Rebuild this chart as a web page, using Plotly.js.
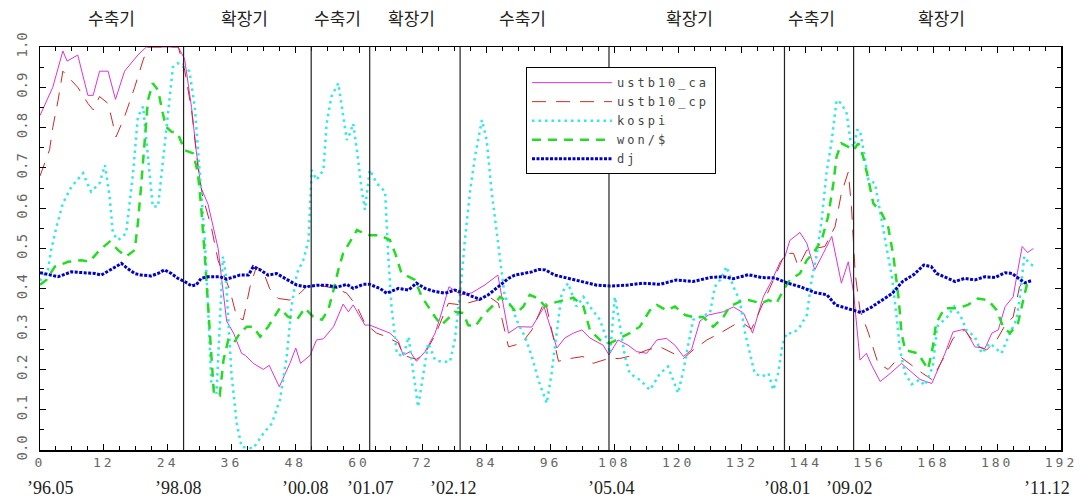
<!DOCTYPE html>
<html>
<head>
<meta charset="utf-8">
<script src="https://cdn.plot.ly/plotly-3.0.1.min.js"></script>
<style>
  html, body { margin: 0; padding: 0; background: #fff; }
  #chart { width: 1089px; height: 503px; }
  .legendtext { letter-spacing: 3px; }
  .xtick text { letter-spacing: 3px; }
</style>
</head>
<body>
<div id="chart"></div>
<script>
// ---- data (x = months since '96.05) ----
const caMonths = [0,2.4,4.3,5.1,7.1,9,10,11.2,12.8,14.2,15.9,18.4,20,26,27.2,28.5,29.4,30.3,31.6,32.5,33.5,34.2,35.1,36.4,37.9,38.6,40.1,42,43.1,45,47,48.1,49,50.8,52,53.3,55.2,57,58,58.9,61.1,62,63.9,65.8,67.4,68.3,69.6,70.8,72.4,74.3,75.5,76.9,79.2,81.2,83.7,86.1,88.1,89.9,92.5,94.8,97.2,98.7,100.3,101.9,103.4,105.9,107,108.7,110.6,112.2,114.1,116,117.8,119.4,121,122.5,124.1,125.7,128.5,130.4,132.3,134,136,137.6,139.2,140.1,141,142.9,144.2,145.7,147.3,148.9,150.7,152,153,154.2,155.4,156.4,158,159.9,162,164.5,165.5,167.7,170.2,171.7,173.9,175.8,177.7,179,180.2,181.5,183,183.8,184.7,185.7,186.8];
const caValues = [0.83,0.90,0.99,0.965,0.98,0.88,0.88,0.94,0.94,0.87,0.94,0.98,1.0,1.0,0.97,0.85,0.74,0.65,0.61,0.56,0.50,0.42,0.32,0.29,0.24,0.235,0.215,0.20,0.21,0.157,0.215,0.253,0.215,0.235,0.273,0.276,0.306,0.362,0.343,0.36,0.31,0.31,0.30,0.29,0.27,0.235,0.244,0.22,0.244,0.29,0.34,0.405,0.385,0.39,0.41,0.434,0.29,0.306,0.305,0.355,0.253,0.278,0.29,0.298,0.278,0.26,0.236,0.273,0.26,0.244,0.24,0.273,0.277,0.26,0.232,0.248,0.32,0.335,0.343,0.355,0.34,0.29,0.38,0.42,0.467,0.48,0.52,0.54,0.513,0.447,0.488,0.53,0.414,0.467,0.39,0.223,0.24,0.21,0.17,0.19,0.215,0.185,0.175,0.165,0.24,0.293,0.30,0.256,0.252,0.29,0.298,0.356,0.38,0.44,0.505,0.49,0.50];

const cpMonths = [0,1.8,2.4,3.4,4.3,5.3,7.1,9,10,11.2,12.8,14.3,15.9,17.8,19.4,20.3,26,27.2,28.5,29.7,30.6,32.2,33.5,35.7,37,38.2,39.5,40.7,42,43.2,44.8,47,48.9,50.1,52,53.9,55.8,57.7,59.6,61.1,63.3,65.2,67.4,68.3,70.8,72.4,74.3,76.8,79.2,82.4,84.5,86.2,88.1,90.6,92.5,95,97.5,98.7,102.1,104,106.9,109,111.9,114.1,116.6,121,122.8,125.4,127.9,131,132.5,133.8,136,138.2,140.1,141.7,142.6,144.2,147.6,149.5,150.7,152,152.6,153.3,154.2,155.8,157.6,159.5,161.7,163.9,166,167.7,170.2,171.7,173.9,176,178,179.9,181.5,183,184.2,185];
const cpValues = [0.68,0.745,0.80,0.868,0.94,0.926,0.90,0.86,0.844,0.877,0.86,0.777,0.827,0.90,0.968,1.0,1.0,0.943,0.844,0.703,0.628,0.554,0.47,0.397,0.33,0.323,0.405,0.455,0.442,0.40,0.376,0.372,0.389,0.405,0.41,0.405,0.40,0.389,0.356,0.314,0.29,0.281,0.265,0.235,0.225,0.24,0.285,0.364,0.36,0.372,0.38,0.364,0.256,0.265,0.298,0.372,0.22,0.225,0.232,0.215,0.227,0.227,0.236,0.248,0.256,0.227,0.248,0.273,0.29,0.314,0.312,0.30,0.364,0.43,0.488,0.488,0.455,0.496,0.505,0.554,0.637,0.69,0.604,0.438,0.347,0.29,0.215,0.20,0.232,0.21,0.19,0.175,0.235,0.277,0.298,0.26,0.248,0.273,0.31,0.33,0.405,0.42];

const kospiMonths = [0,1.5,2.1,3.1,4.3,5.9,8.1,9.6,11.2,12.2,13.1,13.7,14.7,16.2,17.5,18.4,19.4,20.3,21.2,22.2,23.1,24.1,25,25.9,28.1,29.1,30,31,31.6,32.2,33.2,34.4,34.9,35.4,36,37,37.9,40.1,42,43.6,45.1,46.4,47.3,48.3,49.5,50.5,51.1,52,53.3,53.9,54.8,56.1,57,57.7,58.3,58.9,59.6,60.5,61.1,62,63.3,64.9,65.5,66.1,67.1,68.3,69.3,70.2,71.1,72.1,73,74.3,75.5,77.1,78,79,79.9,80.9,81.8,83.1,84,84.9,86.2,87.4,88.7,89.9,91.2,92.5,93.7,95.3,96.2,97.2,98.1,99.3,100.9,102.2,103.4,105.3,106.6,107.2,108.1,109,110,110.9,112.8,114.7,116.6,118.1,120,121,121.9,122.8,124.1,126,126.9,127.9,129.1,130.4,131.6,132.6,133.5,134.4,135.7,137,137.9,138.8,139.6,140.4,141.7,142.9,144.2,145.1,146,147,147.9,148.9,149.8,150.7,151.7,152.4,153,153.7,154.2,154.8,155.8,157,158,159.2,160.2,161.1,161.7,162.7,163.9,165.4,166.4,167.9,168.7,170.6,171.9,173.2,174.2,175.8,177.1,178.6,180.8,182.1,183.6,184.2,185.1,186,187.1];
const kospiValues = [0.42,0.447,0.496,0.554,0.612,0.653,0.687,0.641,0.662,0.707,0.628,0.538,0.521,0.538,0.687,0.827,0.852,0.728,0.604,0.604,0.711,0.827,0.95,0.96,0.94,0.852,0.687,0.521,0.356,0.17,0.14,0.48,0.44,0.314,0.19,0.066,0.008,0.004,0.041,0.066,0.124,0.232,0.356,0.438,0.471,0.521,0.695,0.67,0.695,0.81,0.877,0.91,0.827,0.769,0.786,0.81,0.744,0.645,0.596,0.695,0.662,0.641,0.48,0.356,0.24,0.232,0.281,0.19,0.107,0.19,0.265,0.223,0.219,0.219,0.273,0.389,0.521,0.645,0.728,0.819,0.769,0.645,0.505,0.38,0.356,0.314,0.281,0.232,0.174,0.116,0.19,0.298,0.389,0.414,0.356,0.38,0.356,0.323,0.273,0.24,0.38,0.314,0.232,0.19,0.174,0.149,0.19,0.207,0.141,0.198,0.256,0.323,0.33,0.34,0.405,0.422,0.455,0.405,0.37,0.29,0.24,0.19,0.182,0.19,0.149,0.19,0.26,0.29,0.29,0.306,0.335,0.422,0.48,0.571,0.687,0.769,0.868,0.86,0.835,0.769,0.752,0.794,0.794,0.744,0.67,0.662,0.587,0.505,0.43,0.33,0.25,0.19,0.163,0.174,0.16,0.207,0.306,0.33,0.356,0.33,0.298,0.281,0.24,0.265,0.24,0.281,0.323,0.372,0.48,0.463,0.455];

const wonMonths = [0,1.2,2.8,5.3,7.8,9.3,11.2,13.1,14.7,16.2,17.8,18.4,19,19.7,20.3,21.2,22.2,23.1,23.7,24.7,25.9,27.2,28.8,29.7,30.3,31,31.6,32.2,32.7,33.8,34.5,35.4,36.4,37.6,38.9,40.1,41.4,42.9,45.1,46.7,48.3,49.8,51.4,53,54.2,55.2,56.1,57,58.3,59.6,60.8,62,63.9,65.8,66.8,68,69.3,70.5,71.8,73,74.3,75.5,76.8,78,79.6,80.5,81.8,83.1,84.3,85.6,86.5,87.4,88.7,89.6,90.9,92.1,93.7,95,96.2,97.8,100.3,102.2,103.4,105.3,107.2,109,110.9,112.8,114.7,116,117.8,119.4,121.3,122.8,124.7,126.6,128.5,129.7,131,132.3,133.2,135.7,137,138.5,139.8,141,142.9,144.2,145.4,147,148.2,149.2,149.8,150.7,152,153,153.9,154.8,155.8,156.7,158.3,159.5,160.5,161.5,162,162.7,163.9,165.1,167,167.9,168.5,170.1,172.6,174.5,176.4,178.3,179.9,181.1,182.4,183.9,184.9,185.8];
const wonValues = [0.41,0.422,0.455,0.467,0.471,0.467,0.496,0.517,0.496,0.48,0.496,0.562,0.653,0.769,0.868,0.91,0.893,0.835,0.802,0.79,0.786,0.744,0.736,0.687,0.604,0.48,0.356,0.232,0.14,0.135,0.223,0.273,0.265,0.29,0.306,0.306,0.281,0.306,0.352,0.33,0.323,0.352,0.33,0.323,0.347,0.397,0.447,0.488,0.517,0.546,0.538,0.533,0.533,0.521,0.488,0.438,0.43,0.422,0.38,0.356,0.33,0.31,0.327,0.343,0.34,0.31,0.306,0.33,0.347,0.364,0.38,0.372,0.356,0.34,0.356,0.385,0.376,0.356,0.364,0.37,0.378,0.356,0.298,0.273,0.265,0.277,0.29,0.306,0.347,0.36,0.347,0.356,0.335,0.33,0.33,0.306,0.33,0.356,0.364,0.372,0.372,0.364,0.372,0.364,0.397,0.422,0.438,0.471,0.488,0.521,0.579,0.662,0.728,0.761,0.752,0.744,0.761,0.728,0.67,0.612,0.587,0.554,0.48,0.372,0.29,0.248,0.244,0.24,0.2,0.256,0.314,0.352,0.352,0.36,0.376,0.372,0.347,0.306,0.29,0.314,0.372,0.422];

const djMonths = [0,2.1,3.4,5.9,8.4,10.3,11.5,13.1,15.3,16.5,17.8,19,20.9,22.2,23.4,24.7,25.9,27.2,28.5,29.4,30.3,31.6,33.8,35.1,37.6,39.2,40.1,41.4,42.9,44.5,46.4,48.3,50.1,52,53.9,55.8,57.7,58.9,60.8,62,63.9,65.2,67.4,69.3,70.8,72.4,74.3,76.2,78,79.9,81.5,82.7,84.3,86.2,88.1,89.3,91.2,92.5,93.7,95,96.8,98.7,101.5,104.7,107.2,110.3,113.4,116.6,119.7,122.8,126,128.5,130.4,133.2,135.7,138.2,140.4,143,145.7,148,149.6,151.5,153.2,154.4,156.3,158.4,160.3,162.2,164.4,166.2,167.6,168.6,170.5,172.1,173.9,175.8,177.7,179.6,181.5,182.8,184.2,185.2,186.4];
const djValues = [0.44,0.434,0.43,0.442,0.44,0.438,0.434,0.447,0.463,0.45,0.438,0.434,0.432,0.438,0.447,0.438,0.426,0.418,0.407,0.41,0.426,0.43,0.43,0.424,0.434,0.434,0.455,0.447,0.434,0.438,0.424,0.409,0.405,0.409,0.409,0.404,0.411,0.401,0.411,0.411,0.401,0.389,0.401,0.397,0.414,0.401,0.393,0.389,0.397,0.389,0.38,0.374,0.385,0.405,0.426,0.434,0.438,0.442,0.448,0.447,0.434,0.428,0.418,0.409,0.407,0.409,0.414,0.411,0.422,0.418,0.428,0.43,0.425,0.435,0.428,0.427,0.415,0.405,0.391,0.385,0.36,0.353,0.347,0.341,0.354,0.372,0.389,0.418,0.436,0.459,0.455,0.438,0.428,0.418,0.426,0.422,0.43,0.428,0.44,0.438,0.424,0.415,0.42];

const seriesNames = ["ustb10_ca", "ustb10_cp", "kospi", "won/$", "dj"];

// business-cycle turning points (months) and their date labels
const turnMonths = [27, 51, 62, 79, 107, 140, 153];
const dateLabels = ["\u201996.05", "\u201998.08", "\u201900.08", "\u201901.07", "\u201902.12", "\u201905.04", "\u201908.01", "\u201909.02", "\u201911.12"];
const dateLabelX = [2, 26, 50, 62.2, 77.8, 107.4, 140.5, 152.3, 189.3];

// phase labels across the top
const phaseLabels = ["수축기", "확장기", "수축기", "확장기", "수축기", "확장기", "수축기", "확장기"];
const phaseX = [13.5, 38.4, 55.9, 69.8, 90.7, 122.2, 145, 169.6];

const xTickVals = [0, 12, 24, 36, 48, 60, 72, 84, 96, 108, 120, 132, 144, 156, 168, 180, 192];

// ---- traces ----
const traces = [
  { x: caMonths, y: caValues, name: seriesNames[0], mode: "lines",
    line: { color: "#dd33dd", width: 1 } },
  { x: cpMonths, y: cpValues, name: seriesNames[1], mode: "lines",
    line: { color: "#cc2a2a", width: 1, dash: "14px,10px" } },
  { x: kospiMonths, y: kospiValues, name: seriesNames[2], mode: "lines",
    line: { color: "#33e8e8", width: 2.5, dash: "2.5px,4px" } },
  { x: wonMonths, y: wonValues, name: seriesNames[3], mode: "lines",
    line: { color: "#22dd22", width: 2.5, dash: "9px,7px" } },
  { x: djMonths, y: djValues, name: seriesNames[4], mode: "lines",
    line: { color: "#0000cc", width: 3, dash: "3px,1.5px" } }
];

const shapes = turnMonths.map(m => ({
  type: "line", xref: "x", yref: "y", x0: m, x1: m, y0: 0, y1: 1,
  line: { color: "#222", width: 1.2 }
}));

const annotations = [];
phaseLabels.forEach((t, i) => annotations.push({
  text: t, x: phaseX[i], xref: "x", y: 1.074, yref: "paper",
  showarrow: false, xanchor: "center", yanchor: "middle",
  font: { family: "Noto Sans CJK KR", size: 17, color: "#222" }
}));
dateLabels.forEach((t, i) => annotations.push({
  text: t, x: dateLabelX[i], xref: "x", y: -0.095, yref: "paper",
  showarrow: false, xanchor: "center", yanchor: "middle",
  font: { family: "Liberation Serif", size: 18, color: "#222" }
}));

const layout = {
  width: 1089, height: 503,
  margin: { l: 40, r: 28, t: 47, b: 53 },
  paper_bgcolor: "#fff", plot_bgcolor: "#fff",
  showlegend: true,
  legend: {
    x: 0.476, y: 0.95, xanchor: "left", yanchor: "top",
    bgcolor: "#fff", bordercolor: "#000", borderwidth: 1,
    font: { family: "DejaVu Sans Mono", size: 12, color: "#444" },
    itemwidth: 80, tracegroupgap: 0
  },
  xaxis: {
    range: [0, 192], tickvals: xTickVals, ticktext: xTickVals.map(String),
    ticks: "inside", ticklen: 6, tickcolor: "#000",
    showline: true, linecolor: "#000", linewidth: 1.5, mirror: "ticks",
    showgrid: false, zeroline: false,
    minor: { dtick: 3, ticks: "inside", ticklen: 4, tickcolor: "#000" },
    tickfont: { family: "DejaVu Sans Mono", size: 13, color: "#666" }
  },
  yaxis: {
    range: [0, 1], dtick: 0.1, tick0: 0, tickformat: ".1f", tickangle: -90,
    ticks: "inside", ticklen: 6, tickcolor: "#000",
    showline: true, linecolor: "#000", linewidth: 1.5, mirror: "ticks",
    showgrid: false, zeroline: false, ticklabelstandoff: 6,
    minor: { dtick: 0.05, ticks: "inside", ticklen: 4, tickcolor: "#000" },
    tickfont: { family: "DejaVu Sans Mono", size: 14, color: "#666" }
  },
  shapes: shapes,
  annotations: annotations
};

Plotly.newPlot("chart", traces, layout, { displayModeBar: false, staticPlot: true });
</script>
</body>
</html>
